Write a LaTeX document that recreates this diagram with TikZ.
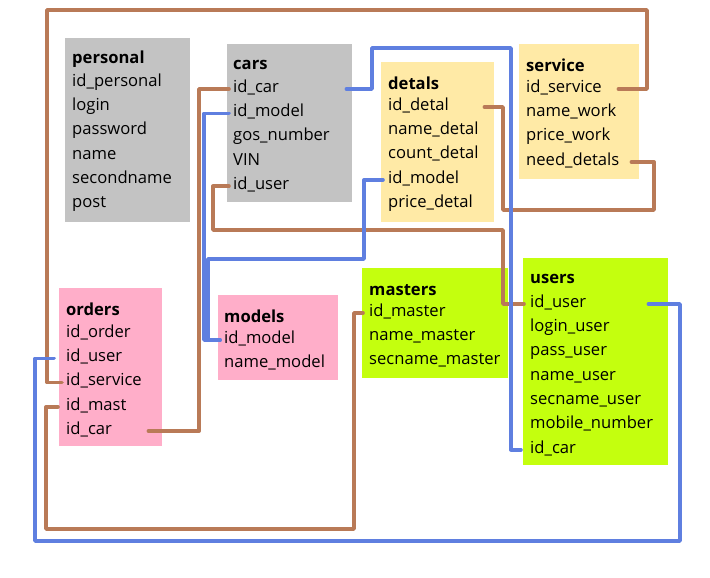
\documentclass[tikz,border=0pt]{standalone}
\usepackage{fontspec}
\setmainfont{Open Sans}
\usetikzlibrary{calc}

\definecolor{tblgray}{HTML}{C3C3C3}
\definecolor{tblyellow}{HTML}{FFEAA6}
\definecolor{tblpink}{HTML}{FFAEC9}
\definecolor{tbllime}{HTML}{C4FF0E}
\definecolor{linkbrown}{HTML}{B97A57}
\definecolor{linkblue}{HTML}{5F7FE0}

% one row node per field, 24.3px apart
\newcommand\fieldlist[4]{%
  \foreach \f [count=\k] in {#4}
    \node[fld] (#1-\k) at (#2,{#3+2+24.3*(\k-1)}) {\f};%
}

\begin{document}
\begin{tikzpicture}[x=1pt, y=-1pt, line cap=round, line join=round,
  font=\fontsize{16.6}{19}\selectfont,
  tbl/.style={anchor=north west, inner sep=0, draw=none},
  ttl/.style={anchor=west, inner sep=0, yshift=-2pt, font=\fontsize{16.6}{19}\selectfont\bfseries},
  fld/.style={anchor=west, inner sep=0, text height=1.6ex, text depth=0.4ex},
  brownlink/.style={draw=linkbrown, line width=3.6pt},
  bluelink/.style={draw=linkblue, line width=3.6pt}]
  \useasboundingbox (0,0) rectangle (710,578);

  % tables
  \node[tbl, fill=tblgray, minimum width=125, minimum height=184] (personal) at (65,38) {};
  \node[ttl] (personal-t) at (72,57) {personal};
  \fieldlist{personal}{72}{81}{id\_personal,login,password,name,secondname,post}

  \node[tbl, fill=tblgray, minimum width=125, minimum height=158] (cars) at (227,44) {};
  \node[ttl] (cars-t) at (233,63) {cars};
  \fieldlist{cars}{233}{87}{id\_car,id\_model,gos\_number,VIN,id\_user}

  \node[tbl, fill=tblyellow, minimum width=113, minimum height=160] (detals) at (381,62) {};
  \node[ttl] (detals-t) at (388,81) {detals};
  \fieldlist{detals}{388}{105}{id\_detal,name\_detal,count\_detal,id\_model,price\_detal}

  \node[tbl, fill=tblyellow, minimum width=120, minimum height=135] (service) at (519,44) {};
  \node[ttl] (service-t) at (526,63) {service};
  \fieldlist{service}{526}{87}{id\_service,name\_work,price\_work,need\_detals}

  \node[tbl, fill=tblpink, minimum width=103, minimum height=158] (orders) at (59,288) {};
  \node[ttl] (orders-t) at (66,307) {orders};
  \fieldlist{orders}{66}{332}{id\_order,id\_user,id\_service,id\_mast,id\_car}

  \node[tbl, fill=tblpink, minimum width=120, minimum height=85] (models) at (218,295) {};
  \node[ttl] (models-t) at (224,314) {models};
  \fieldlist{models}{224}{338}{id\_model,name\_model}

  \node[tbl, fill=tbllime, minimum width=146, minimum height=110] (masters) at (362,268) {};
  \node[ttl] (masters-t) at (369,288) {masters};
  \fieldlist{masters}{369}{311}{id\_master,name\_master,secname\_master}

  \node[tbl, fill=tbllime, minimum width=145, minimum height=207] (users) at (523,258) {};
  \node[ttl] (users-t) at (530,277) {users};
  \fieldlist{users}{530}{302}{id\_user,login\_user,pass\_user,name\_user,secname\_user,mobile\_number,id\_car}

  % brown links
  \draw[brownlink] ($(service.east |- service-1)+(-21,0)$) -| (647,10) -- (47,10)
    |- ($(orders-3.west)+(-4,0)$);
  \draw[brownlink] ($(service.east |- service-4)+(-8,0)$) -| (654,210) -- (503,210)
    |- ($(detals.east |- detals-1)+(-10,0)$);
  \draw[brownlink] ($(cars-1.west)+(-4,0)$) -- ++(-30,0)
    |- ($(orders.east |- orders-5)+(-14,0)$);
  \draw[brownlink] ($(cars-5.west)+(-4,0)$) -- ++(-16,0) |- (503,230)
    |- ($(users-1.west)+(-6,0)$);
  \draw[brownlink] ($(orders-4.west)+(-8,0)$) -- ++(-12,0) |- (354,529)
    |- ($(masters-1.west)+(-6,0)$);

  % blue links
  \draw[bluelink] ($(cars.east |- cars-1)+(-6,0)$) -| (372,48) -- (511,48)
    |- ($(users-7.west)+(-9,0)$);
  \draw[bluelink] ($(cars-2.west)+(-4,0)$) -- ++(-25,0)
    |- ($(models-1.west)+(-4,0)$);
  \draw[bluelink] ($(detals-4.west)+(-5,0)$) -- ++(-19,0) |- (208,259)
    |- ($(models-1.west)+(-4,0)$);
  \draw[bluelink] ($(orders-2.west)+(-12,0)$) -- ++(-19,0) |- (680,541)
    |- ($(users.east |- users-1)+(-20,0)$);
\end{tikzpicture}
\end{document}
